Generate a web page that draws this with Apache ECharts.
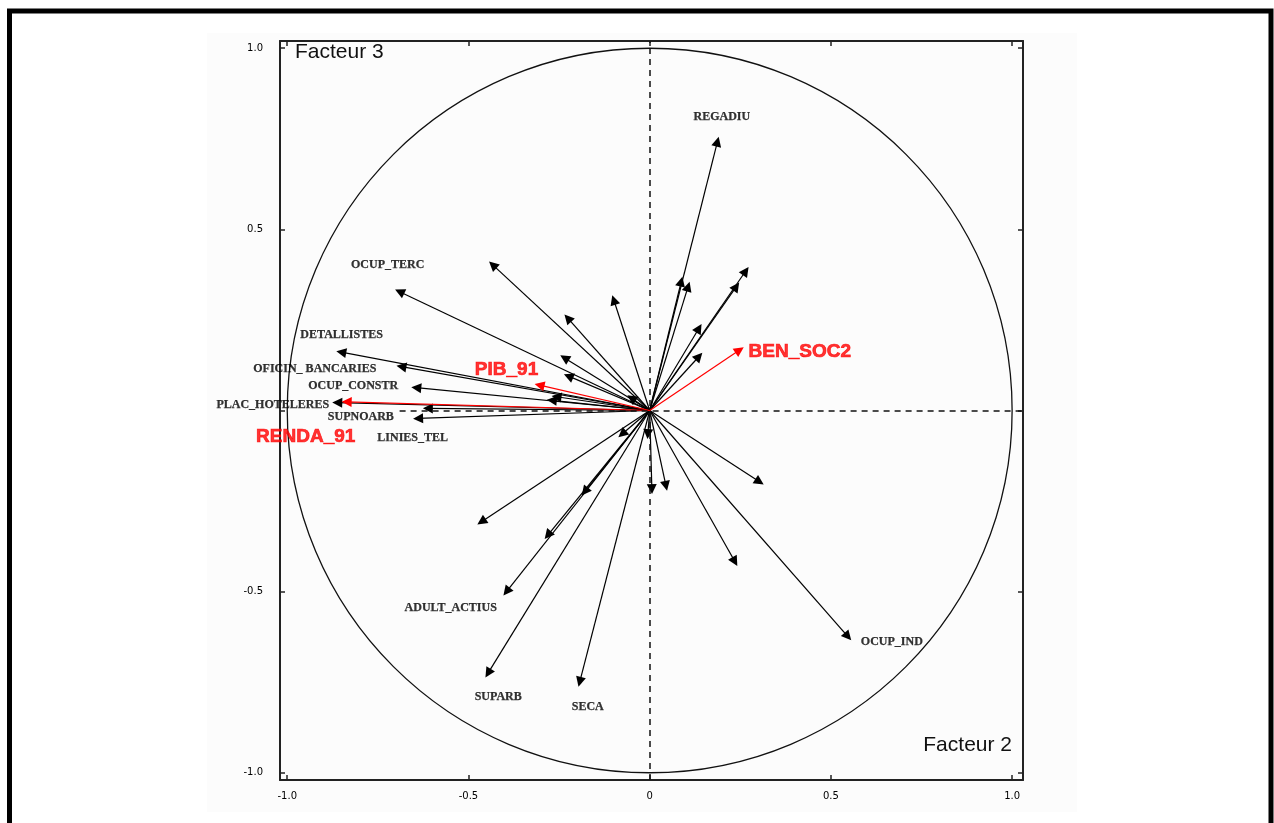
<!DOCTYPE html>
<html><head><meta charset="utf-8">
<script src="https://cdn.jsdelivr.net/npm/echarts@6/dist/echarts.min.js"></script>
<style>html,body{margin:0;padding:0;background:#fff}#c{width:1274px;height:823px}</style>
</head><body><div id="c"></div>
<script>
// Black variable vectors (Facteur 2, Facteur 3)
const blackX = [0.187, 0.265, 0.239, 0.087, 0.106, 0.136, 0.136, -0.099, -0.433, -0.690, -0.226, -0.235, -0.224, -0.851, -0.685, -0.644, -0.257, -0.862, -0.612, -0.639, -0.050, -0.270, -0.464, -0.179, -0.281, -0.395, -0.446, -0.193, -0.076, -0.005, 0.006, 0.045, 0.303, 0.235, 0.547];
const blackY = [0.742, 0.385, 0.342, 0.356, 0.342, 0.227, 0.149, 0.305, 0.402, 0.328, 0.255, 0.145, 0.095, 0.161, 0.121, 0.063, 0.038, 0.022, 0.006, -0.022, 0.034, 0.028, -0.307, -0.224, -0.344, -0.500, -0.725, -0.749, -0.065, -0.065, -0.217, -0.208, -0.197, -0.417, -0.624];
// Red (highlighted) variable vectors
const redNames = ['PIB_91', 'BEN_SOC2', 'RENDA_91'];
const redX = [-0.304, 0.248, -0.836];
const redY = [0.070, 0.167, 0.024];
// Label texts and their anchor points (data units)
const labelText = ['REGADIU', 'OCUP_TERC', 'DETALLISTES', 'OFICIN_ BANCARIES', 'OCUP_CONSTR', 'PLAC_HOTELERES', 'SUPNOARB', 'LINIES_TEL', 'ADULT_ACTIUS', 'SUPARB', 'SECA', 'OCUP_IND', 'RENDA_91', 'PIB_91', 'BEN_SOC2'];
const labelX = [0.199, -0.723, -0.850, -0.924, -0.818, -1.040, -0.797, -0.654, -0.549, -0.418, -0.171, 0.668, -0.949, -0.395, 0.414];
const labelY = [0.810, 0.402, 0.208, 0.115, 0.069, 0.015, -0.017, -0.075, -0.546, -0.790, -0.819, -0.638, -0.072, 0.112, 0.162];
// Axis ticks
const xTicks = [-1, -0.5, 0, 0.5, 1];
const yTicks = [-1, -0.5, 0.5, 1];
const tickMarks = [-1, -0.5, 0, 0.5, 1];

const fmt = v => (Math.abs(v) < 1e-9 ? '0' : v.toFixed(1));
const chart = echarts.init(document.getElementById('c'), null, {renderer: 'canvas'});
const frame = {show: true, onZero: false, lineStyle: {color: '#222', width: 2}};
const tickStyle = {show: true, inside: true, length: 5, customValues: tickMarks, lineStyle: {color: '#222', width: 1.5}};
const lblFont = {fontFamily: '"DejaVu Sans", sans-serif', fontSize: 10, color: '#000'};

const arrowData = blackX.map((x, i) => ({coords: [[0, 0], [x, blackY[i]]]}));
const redData = redX.map((x, i) => ({coords: [[0, 0], [x, redY[i]]]}));
const labelData = labelText.map((t, i) => {
  const red = redNames.indexOf(t) >= 0;
  return {
    name: t, value: [labelX[i], labelY[i]],
    label: red
      ? {color: '#ff0000', fontFamily: '"Liberation Sans", Arial, sans-serif', fontWeight: 'bold', fontSize: 19, textBorderColor: '#ff0000', textBorderWidth: 0.7}
      : {color: '#000', fontFamily: '"Liberation Serif", serif', fontWeight: 'bold', fontSize: 12, textBorderColor: '#000', textBorderWidth: 0.25}
  };
});

chart.setOption({
  animation: false,
  backgroundColor: '#ffffff',
  grid: {left: 280, top: 41, width: 743, height: 739, containLabel: false},
  xAxis: [
    {type: 'value', position: 'bottom', min: -1.02, max: 1.03, axisLine: frame, splitLine: {show: false}, axisTick: tickStyle,
      axisLabel: Object.assign({show: true, customValues: xTicks, formatter: fmt, margin: 11}, lblFont)},
    {type: 'value', position: 'top', min: -1.02, max: 1.03, axisLine: frame, splitLine: {show: false}, axisTick: tickStyle, axisLabel: {show: false}}
  ],
  yAxis: [
    {type: 'value', position: 'left', min: -1.02, max: 1.02, axisLine: frame, splitLine: {show: false}, axisTick: tickStyle,
      axisLabel: Object.assign({show: true, customValues: yTicks, formatter: fmt, margin: 17}, lblFont)},
    {type: 'value', position: 'right', min: -1.02, max: 1.02, axisLine: frame, splitLine: {show: false}, axisTick: tickStyle, axisLabel: {show: false}}
  ],
  graphic: [
    {type: 'rect', z: -100, silent: true, shape: {x: 207, y: 33, width: 870, height: 779}, style: {fill: '#fcfcfc'}},
    {type: 'rect', z: 100, silent: true, shape: {x: 9.5, y: 11, width: 1261.5, height: 830}, style: {fill: 'none', stroke: '#000', lineWidth: 5}},
    {type: 'text', z: 100, x: 295, y: 42, style: {text: 'Facteur 3', font: '21px "Liberation Sans", Arial, sans-serif', fill: '#111', textVerticalAlign: 'top'}},
    {type: 'text', z: 100, x: 1012, y: 735, style: {text: 'Facteur 2', font: '21px "Liberation Sans", Arial, sans-serif', fill: '#111', textAlign: 'right', textVerticalAlign: 'top'}}
  ],
  series: [
    {
      type: 'custom', silent: true, data: [[0, 0]], z: 1,
      renderItem: (params, api) => {
        const c = api.coord([0, 0]);
        const s = api.size([1, 1]);
        return {type: 'ellipse', shape: {cx: c[0], cy: c[1], rx: s[0], ry: s[1]}, style: {fill: 'none', stroke: '#111', lineWidth: 1.3}};
      },
      markLine: {
        silent: true, symbol: 'none', label: {show: false},
        lineStyle: {color: '#111', width: 1.5, type: [6, 5]},
        data: [{xAxis: 0}, [{coord: [-0.69, 0]}, {coord: [1.03, 0]}]]
      }
    },
    {
      type: 'lines', coordinateSystem: 'cartesian2d', silent: true, z: 3,
      symbol: ['none', 'triangle'], symbolSize: 10,
      lineStyle: {color: '#000', width: 1.2, opacity: 1, curveness: 0},
      data: arrowData
    },
    {
      type: 'lines', coordinateSystem: 'cartesian2d', silent: true, z: 4,
      symbol: ['none', 'triangle'], symbolSize: 10,
      lineStyle: {color: '#ff0000', width: 1.2, opacity: 1, curveness: 0},
      data: redData
    },
    {
      type: 'scatter', silent: true, z: 5, clip: false, symbolSize: 1,
      itemStyle: {color: 'rgba(0,0,0,0)'},
      label: {show: true, position: 'inside', formatter: '{b}'},
      data: labelData
    }
  ]
});
</script></body></html>
